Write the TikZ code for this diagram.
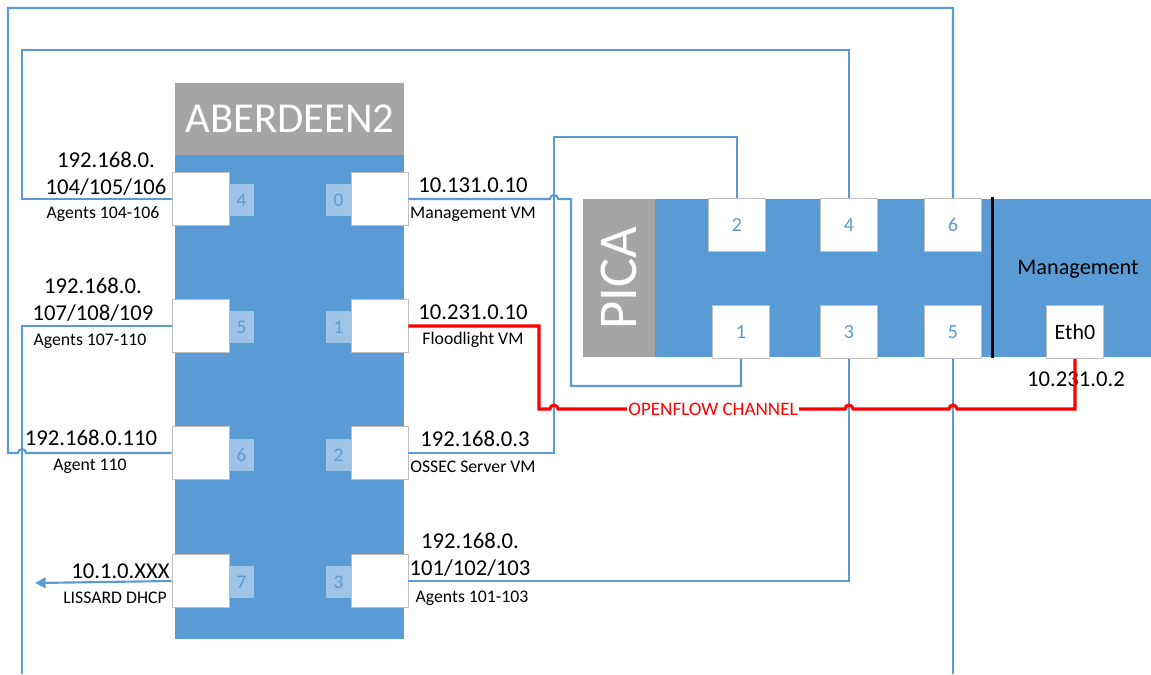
\documentclass[tikz,border=0pt]{standalone}
\usepackage{fontspec}
\setmainfont{Carlito}
\usepackage{xcolor}
\usetikzlibrary{arrows.meta}

\definecolor{swblue}{HTML}{5B9BD5}
\definecolor{swlight}{HTML}{9DC3E6}
\definecolor{swgray}{HTML}{A5A5A5}
\definecolor{swedge}{HTML}{BFBFBF}

\tikzset{
  port/.style={draw=swedge, fill=white, line width=0.6pt, minimum width=42.75pt, minimum height=39.75pt, inner sep=0pt, text=swblue, font=\fontsize{15}{17}\selectfont},
  portnum/.style={fill=swlight, text=swblue, minimum width=18.75pt, minimum height=24pt, inner sep=0pt, font=\fontsize{14.5}{16}\selectfont},
  link/.style={draw=swblue, line width=1.6pt},
  flow/.style={draw=red, line width=2.3pt},
  ip/.style={font=\fontsize{17}{20}\selectfont, align=center, inner sep=0pt},
  tag/.style={font=\fontsize{13.3}{15}\selectfont, inner sep=0pt},
}

\begin{document}
\begin{tikzpicture}[x=0.75pt, y=-0.75pt]
  \useasboundingbox (0,0) rectangle (1151,674);

  % ABERDEEN2
  \fill[swblue] (175,155) rectangle (404,639);
  \fill[swgray] (175,83) rectangle (404,155);
  \node[text=white, font=\fontsize{32}{32}\selectfont] (aberdeen) at (290,119) {ABERDEEN2};

  \node[port] (a4) at (200.5,199) {};
  \node[port] (a5) at (200.5,326) {};
  \node[port] (a6) at (200.5,453) {};
  \node[port] (a7) at (200.5,581) {};
  \node[port] (a0) at (379.5,199) {};
  \node[port] (a1) at (379.5,326) {};
  \node[port] (a2) at (379.5,453) {};
  \node[port] (a3) at (379.5,581) {};
  \node[portnum] (n4) at (241.5,200) {4};
  \node[portnum] (n5) at (241.5,327) {5};
  \node[portnum] (n6) at (241.5,455) {6};
  \node[portnum] (n7) at (241.5,582) {7};
  \node[portnum] (n0) at (338.5,200) {0};
  \node[portnum] (n1) at (338.5,327) {1};
  \node[portnum] (n2) at (338.5,455) {2};
  \node[portnum] (n3) at (338.5,582) {3};

  % PICA
  \fill[swgray] (583,199) rectangle (655,357);
  \fill[swblue] (655,199) rectangle (1151,357);
  \node[text=white, rotate=90, font=\fontsize{41}{41}\selectfont] (pica) at (619,278) {PICA};
  \draw[line width=2.25pt] (992,197) -- (992,358);
  \node[port] (p2) at (737,225) {2};
  \node[port] (p4) at (849,225) {4};
  \node[port] (p6) at (953,225) {6};
  \node[port] (p1) at (741,332) {1};
  \node[port] (p3) at (849,332) {3};
  \node[port] (p5) at (953,332) {5};
  \node[port, text=black, font=\fontsize{16.5}{18}\selectfont] (eth0) at (1075,332) {Eth0};
  \node[font=\fontsize{16.7}{18}\selectfont] (mgmt) at (1078,269) {Management};
  \node[ip] (ethip) at (1076,379) {10.231.0.2};

  % labels
  \node[ip] (ip4) at (106,174) {192.168.0.\\104/105/106};
  \node[tag] (t4) at (103,214) {Agents 104-106};
  \node[ip] (ip5) at (93,300) {192.168.0.\\107/108/109};
  \node[tag] (t5) at (90,341) {Agents 107-110};
  \node[ip] (ip6) at (91,438) {192.168.0.110};
  \node[tag] (t6) at (90,466) {Agent 110};
  \node[ip, anchor=east] (ip7) at (170,571) {10.1.0.XXX};
  \node[tag, anchor=east] (t7) at (167,598) {LISSARD DHCP};
  \node[ip] (ip0) at (473,185) {10.131.0.10};
  \node[tag] (t0) at (473,214) {Management VM};
  \node[ip] (ip1) at (473,312) {10.231.0.10};
  \node[tag] (t1) at (473,340) {Floodlight VM};
  \node[ip] (ip2) at (475,439) {192.168.0.3};
  \node[tag] (t2) at (473,467) {OSSEC Server VM};
  \node[ip] (ip3) at (470,555) {192.168.0.\\101/102/103};
  \node[tag] (t3) at (472,598) {Agents 101-103};

  % links
  \coordinate (a5end) at (22,674);
  \coordinate (p5end) at (953,674);
  \coordinate (dhcp) at (35,583);
  \draw[link] (a4.west) -| (22,50) -| (p4.north);
  \draw[link] (a6.west) -- (26,453) arc[start angle=0, end angle=180, radius=3pt]
    -- (8,453) -- (8,8) -| (p6.north);
  \draw[link] (a5.west) -| (a5end);
  \draw[link, -{Triangle[length=8pt, width=8pt]}] (a7.west) -- (dhcp);
  \draw[link] (a0.east) -- (550,199) arc[start angle=180, end angle=0, radius=3pt]
    -- (571,199) -- (571,386) -| (p1.south);
  \draw[link] (a2.east) -| (554,137) -| (p2.north);
  \draw[link] (a3.east) -| (p3.south);
  \draw[link] (p5.south) -- (p5end);

  % openflow channel
  \node[text=red, fill=white, inner sep=1pt, font=\fontsize{14.3}{16}\selectfont] (ofc) at (713,409) {OPENFLOW CHANNEL};
  \draw[flow] (a1.east) -- (539,326) -- (539,409) -- (550,409)
    arc[start angle=180, end angle=0, radius=3pt] -- (ofc.west);
  \draw[flow] (ofc.east) -- (845,409) arc[start angle=180, end angle=0, radius=3pt]
    -- (949,409) arc[start angle=180, end angle=0, radius=3pt] -| (eth0.south);
\end{tikzpicture}
\end{document}
